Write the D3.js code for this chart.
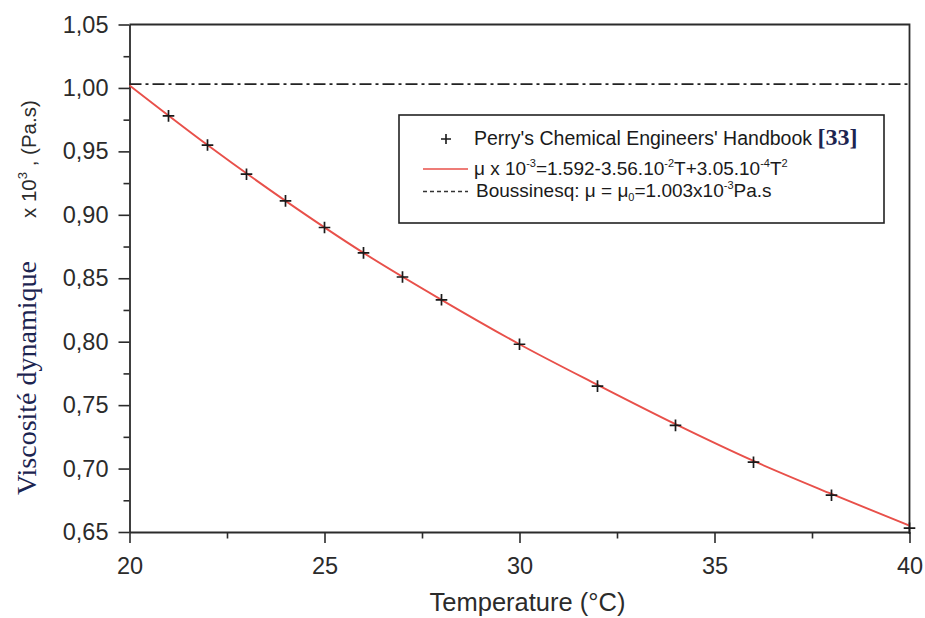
<!DOCTYPE html>
<html>
<head>
<meta charset="utf-8">
<script src="https://cdn.jsdelivr.net/npm/d3@7"></script>
<style>
  body { margin: 0; background: #fff; }
  svg { display: block; font-family: "Liberation Sans", Arial, sans-serif; }
  .axis text { fill: #2b2b2b; }
  .axis line, .axis path { stroke: #2b2b2b; }
</style>
</head>
<body>
<svg id="chart"></svg>
<script>
// data
const temps = [21, 22, 23, 24, 25, 26, 27, 28, 30, 32, 34, 36, 38, 40];
const perry = [0.978, 0.955, 0.932, 0.911, 0.890, 0.870, 0.851, 0.833, 0.798, 0.765, 0.734, 0.705, 0.679, 0.653];

const fitT  = [20, 22, 24, 26, 28, 30, 32, 34, 36, 38, 40];
const fitMu = [1.002, 0.955, 0.911, 0.870, 0.833, 0.798, 0.766, 0.735, 0.706, 0.680, 0.655];

const boussinesq = 1.003;

const xTicks = [20, 25, 30, 35, 40];
const xMinor = [22.5, 27.5, 32.5, 37.5];
const yTicks = [0.65, 0.70, 0.75, 0.80, 0.85, 0.90, 0.95, 1.00, 1.05];
const yMinor = [0.675, 0.725, 0.775, 0.825, 0.875, 0.925, 0.975, 1.025];

const width = 925, height = 618;
const margin = { top: 24.5, right: 15.5, bottom: 86, left: 129.5 };

const svg = d3.select("#chart")
  .attr("width", width)
  .attr("height", height);

svg.append("rect").attr("width", width).attr("height", height).attr("fill", "#fff");

const x = d3.scaleLinear().domain([20, 40]).range([margin.left, width - margin.right]);
const y = d3.scaleLinear().domain([0.65, 1.05]).range([height - margin.bottom, margin.top]);

const comma = d3.formatLocale({ decimal: ",", thousands: ".", grouping: [3], currency: ["", ""] }).format(".2f");

// minor ticks first
svg.append("g")
  .attr("class", "axis")
  .attr("transform", `translate(0,${y(0.65)})`)
  .call(d3.axisBottom(x).tickValues(xMinor).tickSize(6.5).tickSizeOuter(0).tickFormat(""))
  .call(g => g.select(".domain").remove())
  .call(g => g.selectAll("line").attr("stroke-width", 1.6));

svg.append("g")
  .attr("class", "axis")
  .attr("transform", `translate(${x(20)},0)`)
  .call(d3.axisLeft(y).tickValues(yMinor).tickSize(6).tickSizeOuter(0).tickFormat(""))
  .call(g => g.select(".domain").remove())
  .call(g => g.selectAll("line").attr("stroke-width", 1.6));

// major axes
svg.append("g")
  .attr("class", "axis")
  .attr("transform", `translate(0,${y(0.65)})`)
  .call(d3.axisBottom(x).tickValues(xTicks).tickSize(11).tickSizeOuter(0).tickPadding(14).tickFormat(d3.format("d")))
  .call(g => g.select(".domain").attr("stroke-width", 1.8))
  .call(g => g.selectAll("line").attr("stroke-width", 1.6))
  .call(g => g.selectAll("text").attr("font-size", 23.5).attr("font-family", "Liberation Sans, Arial, sans-serif"));

svg.append("g")
  .attr("class", "axis")
  .attr("transform", `translate(${x(20)},0)`)
  .call(d3.axisLeft(y).tickValues(yTicks).tickSize(11).tickSizeOuter(0).tickPadding(10).tickFormat(comma))
  .call(g => g.select(".domain").attr("stroke-width", 1.8))
  .call(g => g.selectAll("line").attr("stroke-width", 1.6))
  .call(g => g.selectAll("text").attr("font-size", 23.5).attr("font-family", "Liberation Sans, Arial, sans-serif"));

// frame top + right
svg.append("path")
  .attr("d", `M${x(20)},${y(1.05)}H${x(40)}V${y(0.65)}`)
  .attr("fill", "none")
  .attr("stroke", "#2b2b2b")
  .attr("stroke-width", 1.8);

// Boussinesq constant
svg.append("line")
  .attr("x1", x(20)).attr("x2", x(40))
  .attr("y1", y(boussinesq)).attr("y2", y(boussinesq))
  .attr("stroke", "#222")
  .attr("stroke-width", 1.7)
  .attr("stroke-dasharray", "12,4,3,4");

// fitted curve
const line = d3.line()
  .x((d, i) => x(fitT[i]))
  .y(d => y(d))
  .curve(d3.curveMonotoneX);

svg.append("path")
  .datum(fitMu)
  .attr("d", line)
  .attr("fill", "none")
  .attr("stroke", "#e8504a")
  .attr("stroke-width", 1.9);

// Perry points as crosses
const plusPath = s => `M${-s},0H${s}M0,${-s}V${s}`;

svg.append("g")
  .selectAll("path")
  .data(perry)
  .join("path")
    .attr("transform", (d, i) => `translate(${x(temps[i])},${y(d)})`)
    .attr("d", plusPath(5.8))
    .attr("stroke", "#1a1a1a")
    .attr("stroke-width", 1.7);

// legend
const lg = svg.append("g");
lg.append("rect")
  .attr("x", 399).attr("y", 115)
  .attr("width", 485).attr("height", 108)
  .attr("fill", "#fff")
  .attr("stroke", "#222")
  .attr("stroke-width", 1.6);

lg.append("path")
  .attr("transform", "translate(446,139)")
  .attr("d", plusPath(5))
  .attr("stroke", "#1a1a1a")
  .attr("stroke-width", 1.6);

lg.append("line")
  .attr("x1", 423).attr("x2", 468).attr("y1", 169).attr("y2", 169)
  .attr("stroke", "#e8504a").attr("stroke-width", 1.7);

lg.append("line")
  .attr("x1", 423).attr("x2", 468).attr("y1", 191.5).attr("y2", 191.5)
  .attr("stroke", "#333").attr("stroke-width", 1.4)
  .attr("stroke-dasharray", "4,3");

const t1 = lg.append("text")
  .attr("x", 474).attr("y", 145)
  .attr("font-size", 19.5).attr("fill", "#1a1a1a");
t1.append("tspan").text("Perry's Chemical Engineers' Handbook ");
t1.append("tspan")
  .attr("font-family", "Liberation Serif, Times New Roman, serif")
  .attr("font-weight", "bold")
  .attr("font-size", 24)
  .attr("fill", "#1c2450")
  .text("[33]");

const t2 = lg.append("text")
  .attr("x", 474).attr("y", 175)
  .attr("font-size", 19).attr("fill", "#1a1a1a");
t2.append("tspan").text("μ x 10");
t2.append("tspan").attr("font-size", 11).attr("dy", -8).text("-3");
t2.append("tspan").attr("dy", 8).text("=1.592-3.56.10");
t2.append("tspan").attr("font-size", 11).attr("dy", -8).text("-2");
t2.append("tspan").attr("dy", 8).text("T+3.05.10");
t2.append("tspan").attr("font-size", 11).attr("dy", -8).text("-4");
t2.append("tspan").attr("dy", 8).text("T");
t2.append("tspan").attr("font-size", 11).attr("dy", -8).text("2");

const t3 = lg.append("text")
  .attr("x", 476).attr("y", 197)
  .attr("font-size", 19).attr("fill", "#1a1a1a");
t3.append("tspan").text("Boussinesq: μ = μ");
t3.append("tspan").attr("font-size", 11).attr("dy", 4).text("0");
t3.append("tspan").attr("dy", -4).text("=1.003x10");
t3.append("tspan").attr("font-size", 11).attr("dy", -8).text("-3");
t3.append("tspan").attr("dy", 8).text("Pa.s");

// axis titles
svg.append("text")
  .attr("x", 527.5).attr("y", 611)
  .attr("text-anchor", "middle")
  .attr("font-size", 25.5)
  .attr("fill", "#2b2b2b")
  .text("Temperature (°C)");

svg.append("text")
  .attr("transform", "translate(36,495) rotate(-90)")
  .attr("font-family", "Liberation Serif, Times New Roman, serif")
  .attr("font-size", 28)
  .attr("fill", "#1c2450")
  .text("Viscosité dynamique");

const ylab = svg.append("text")
  .attr("transform", "translate(36,218) rotate(-90)")
  .attr("font-size", 20.5)
  .attr("fill", "#2b2b2b");
ylab.append("tspan").text("x 10");
ylab.append("tspan").attr("font-size", 13).attr("dy", -9).text("3");
ylab.append("tspan").attr("dy", 9).text(" , (Pa.s)");
</script>
</body>
</html>
